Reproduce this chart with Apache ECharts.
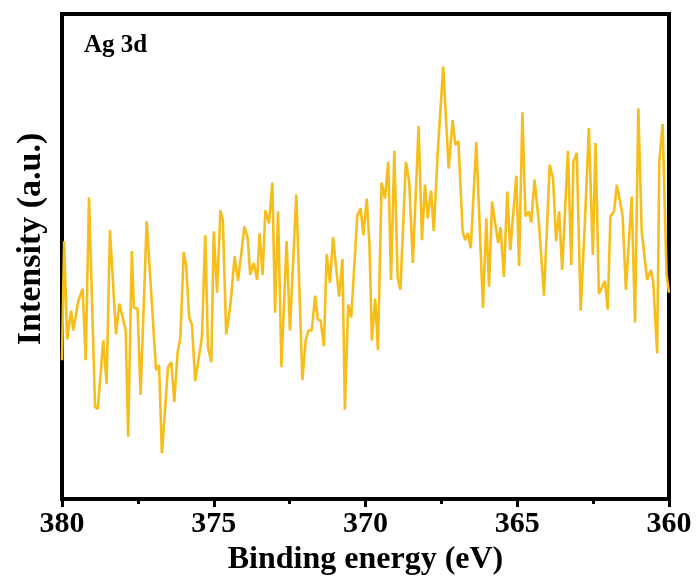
<!DOCTYPE html>
<html>
<head>
<meta charset="utf-8">
<title>Ag 3d</title>
<script src="https://cdn.jsdelivr.net/npm/echarts@6/dist/echarts.min.js"></script>
<style>
  html, body { margin: 0; padding: 0; background: #fff; }
  #chart { width: 697px; height: 581px; }
</style>
</head>
<body>
<div id="chart"></div>
<script>
// binding energy (eV)
var energy = [
  380.00, 379.93, 379.83, 379.70, 379.63, 379.46, 379.32, 379.22, 379.11, 378.91,
  378.82, 378.64, 378.53, 378.42, 378.22, 378.11, 377.90, 377.82, 377.70, 377.63,
  377.51, 377.41, 377.21, 376.90, 376.80, 376.71, 376.62, 376.51, 376.40, 376.30,
  376.19, 376.10, 375.99, 375.91, 375.81, 375.72, 375.61, 375.39, 375.28, 375.19,
  375.08, 375.00, 374.89, 374.78, 374.70, 374.59, 374.45, 374.31, 374.20, 373.99,
  373.88, 373.80, 373.68, 373.57, 373.49, 373.39, 373.30, 373.18, 373.07, 372.98,
  372.88, 372.77, 372.60, 372.49, 372.28, 372.08, 371.97, 371.88, 371.77, 371.66,
  371.57, 371.48, 371.37, 371.28, 371.17, 371.07, 370.87, 370.76, 370.68, 370.57,
  370.47, 370.27, 370.16, 370.07, 369.96, 369.87, 369.79, 369.68, 369.59, 369.47,
  369.36, 369.25, 369.16, 369.05, 368.94, 368.85, 368.67, 368.56, 368.44, 368.25,
  368.14, 368.04, 367.95, 367.84, 367.75, 367.62, 367.44, 367.26, 367.13, 367.04,
  366.94, 366.80, 366.72, 366.63, 366.53, 366.35, 366.13, 366.02, 365.93, 365.83,
  365.63, 365.55, 365.44, 365.33, 365.23, 365.03, 364.94, 364.83, 364.73, 364.62,
  364.54, 364.43, 364.28, 364.12, 363.93, 363.82, 363.72, 363.62, 363.52, 363.33,
  363.22, 363.15, 363.04, 362.91, 362.77, 362.64, 362.51, 362.42, 362.31, 362.20,
  362.11, 362.02, 361.93, 361.81, 361.72, 361.53, 361.42, 361.23, 361.12, 361.01,
  360.90, 360.72, 360.60, 360.52, 360.39, 360.32, 360.21, 360.08, 360.00
];
// intensity (a.u.)
var intensity = [
  140, 260, 161, 190, 170, 200, 212, 140, 304, 93,
  91, 160, 116, 271, 166, 197, 170, 63, 250, 193,
  192, 105, 280, 130, 135, 46, 83, 133, 138, 98,
  148, 163, 249, 236, 183, 176, 119, 163, 266, 153,
  138, 270, 208, 291, 281, 166, 196, 245, 220, 275,
  263, 226, 238, 221, 268, 226, 291, 278, 319, 188,
  290, 133, 260, 170, 307, 120, 160, 170, 170, 205,
  181, 180, 154, 247, 218, 264, 204, 242, 90, 196,
  183, 286, 293, 266, 303, 256, 160, 202, 150, 319,
  303, 340, 221, 351, 223, 211, 340, 320, 238, 376,
  261, 317, 283, 311, 270, 350, 436, 333, 382, 357,
  361, 270, 261, 268, 253, 360, 193, 283, 214, 300,
  258, 274, 224, 310, 251, 326, 235, 390, 285, 290,
  279, 322, 276, 205, 337, 323, 260, 290, 231, 351,
  236, 340, 349, 190, 280, 374, 246, 359, 207, 214,
  220, 191, 285, 290, 317, 286, 211, 305, 178, 394,
  270, 221, 231, 219, 147, 340, 378, 226, 208
];
var xTicks = [380, 375, 370, 365, 360];

var serif = "'Liberation Serif', 'DejaVu Serif', serif";
var chart = echarts.init(document.getElementById('chart'));

var option = {
  backgroundColor: '#fff',
  animation: false,
  grid: {
    left: 62, right: 28, top: 14, bottom: 77,
    show: true, borderColor: '#000', borderWidth: 4, backgroundColor: 'transparent'
  },
  xAxis: {
    type: 'value',
    inverse: true,
    min: 360, max: 380, interval: 5,
    name: 'Binding energy (eV)',
    nameLocation: 'middle',
    nameGap: 36,
    nameTextStyle: { fontFamily: serif, fontWeight: 'bold', fontSize: 32, color: '#000' },
    axisLine: { show: true, lineStyle: { color: '#000', width: 4 } },
    axisTick: { show: true, inside: false, length: 8, lineStyle: { color: '#000', width: 3 } },
    minorTick: { show: true, splitNumber: 2, length: 5, lineStyle: { color: '#000', width: 3 } },
    splitLine: { show: false },
    axisLabel: {
      margin: 10,
      fontFamily: serif, fontWeight: 'bold', fontSize: 30, color: '#000',
      formatter: function (v) { return xTicks.indexOf(v) >= 0 ? String(v) : ''; }
    }
  },
  yAxis: {
    type: 'value',
    min: 0, max: 489,
    axisLine: { show: false },
    axisTick: { show: false },
    axisLabel: { show: false },
    splitLine: { show: false }
  },
  graphic: [
    {
      type: 'text', left: 84, top: 33,
      style: { text: 'Ag 3d', font: "bold 25px 'Liberation Serif', serif", fill: '#000' }
    },
    {
      type: 'text', x: 31, y: 239, rotation: Math.PI / 2,
      style: {
        text: 'Intensity (a.u.)', font: "bold 34px 'Liberation Serif', serif", fill: '#000',
        align: 'center', verticalAlign: 'middle'
      }
    }
  ],
  series: [{
    type: 'line',
    data: energy.map(function (e, i) { return [e, intensity[i]]; }),
    showSymbol: false,
    symbol: 'none',
    clip: true,
    lineStyle: { color: '#F7BE1B', width: 2.6 }
  }]
};
chart.setOption(option);
</script>
</body>
</html>
